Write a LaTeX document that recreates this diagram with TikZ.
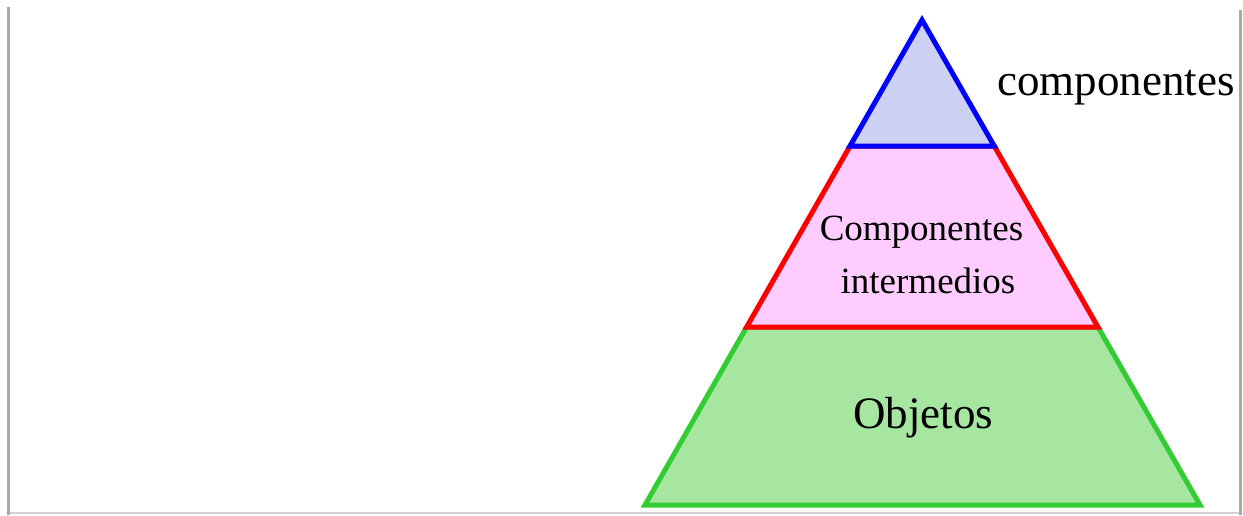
\documentclass[tikz,border=0pt]{standalone}
\usepackage{fontspec}
\setmainfont{Liberation Serif}
\usetikzlibrary{calc}
\definecolor{topblue}{HTML}{0000FF}
\definecolor{topfill}{HTML}{CCD0F2}
\definecolor{midred}{HTML}{FF0000}
\definecolor{midfill}{HTML}{FFCCFF}
\definecolor{basegreen}{HTML}{33CC33}
\definecolor{basefill}{HTML}{A6E6A0}
\definecolor{framegray}{HTML}{A8A8A8}
\definecolor{framelight}{HTML}{D4D4D4}
\tikzset{
  layer/.style={line width=5pt, line join=miter},
  label/.style={anchor=base, inner sep=0pt, text=black}
}

\begin{document}
\begin{tikzpicture}[x=1pt, y=-1pt]
\useasboundingbox (0,0) rectangle (1243,515);
% frame
\draw[framelight, line width=2pt] (8,513) -- (1240,513);
\draw[framegray, line width=3pt] (8,7) -- (8,515);
\draw[framegray, line width=3pt] (1240,10) -- (1240,515);
% pyramid corners
\coordinate (apex) at (922,20);
\coordinate (bl) at (645,505);
\coordinate (br) at (1200,505);
\coordinate (ml) at ($(apex)!0.633!(bl)$);
\coordinate (mr) at ($(apex)!0.633!(br)$);
\coordinate (tl) at ($(apex)!0.2598!(bl)$);
\coordinate (tr) at ($(apex)!0.2598!(br)$);
% layers, bottom first
\draw[layer, basegreen, fill=basefill] (bl) -- (br) -- (mr) -- (ml) -- cycle;
\draw[layer, midred, fill=midfill] (ml) -- (mr) -- (tr) -- (tl) -- cycle;
\draw[layer, topblue, fill=topfill] (tl) -- (tr) -- (apex) -- cycle;
% labels
\node[label, anchor=base west, font=\fontsize{45}{50}\selectfont] (toplabel) at (997,95) {componentes};
\node[label, font=\fontsize{37}{42}\selectfont] (midlabel) at (921.5,240) {Componentes};
\node[label, font=\fontsize{37}{42}\selectfont] (midlabeltwo) at (928,293) {intermedios};
\node[label, font=\fontsize{45}{50}\selectfont] (baselabel) at (923,428) {Objetos};
\end{tikzpicture}
\end{document}
